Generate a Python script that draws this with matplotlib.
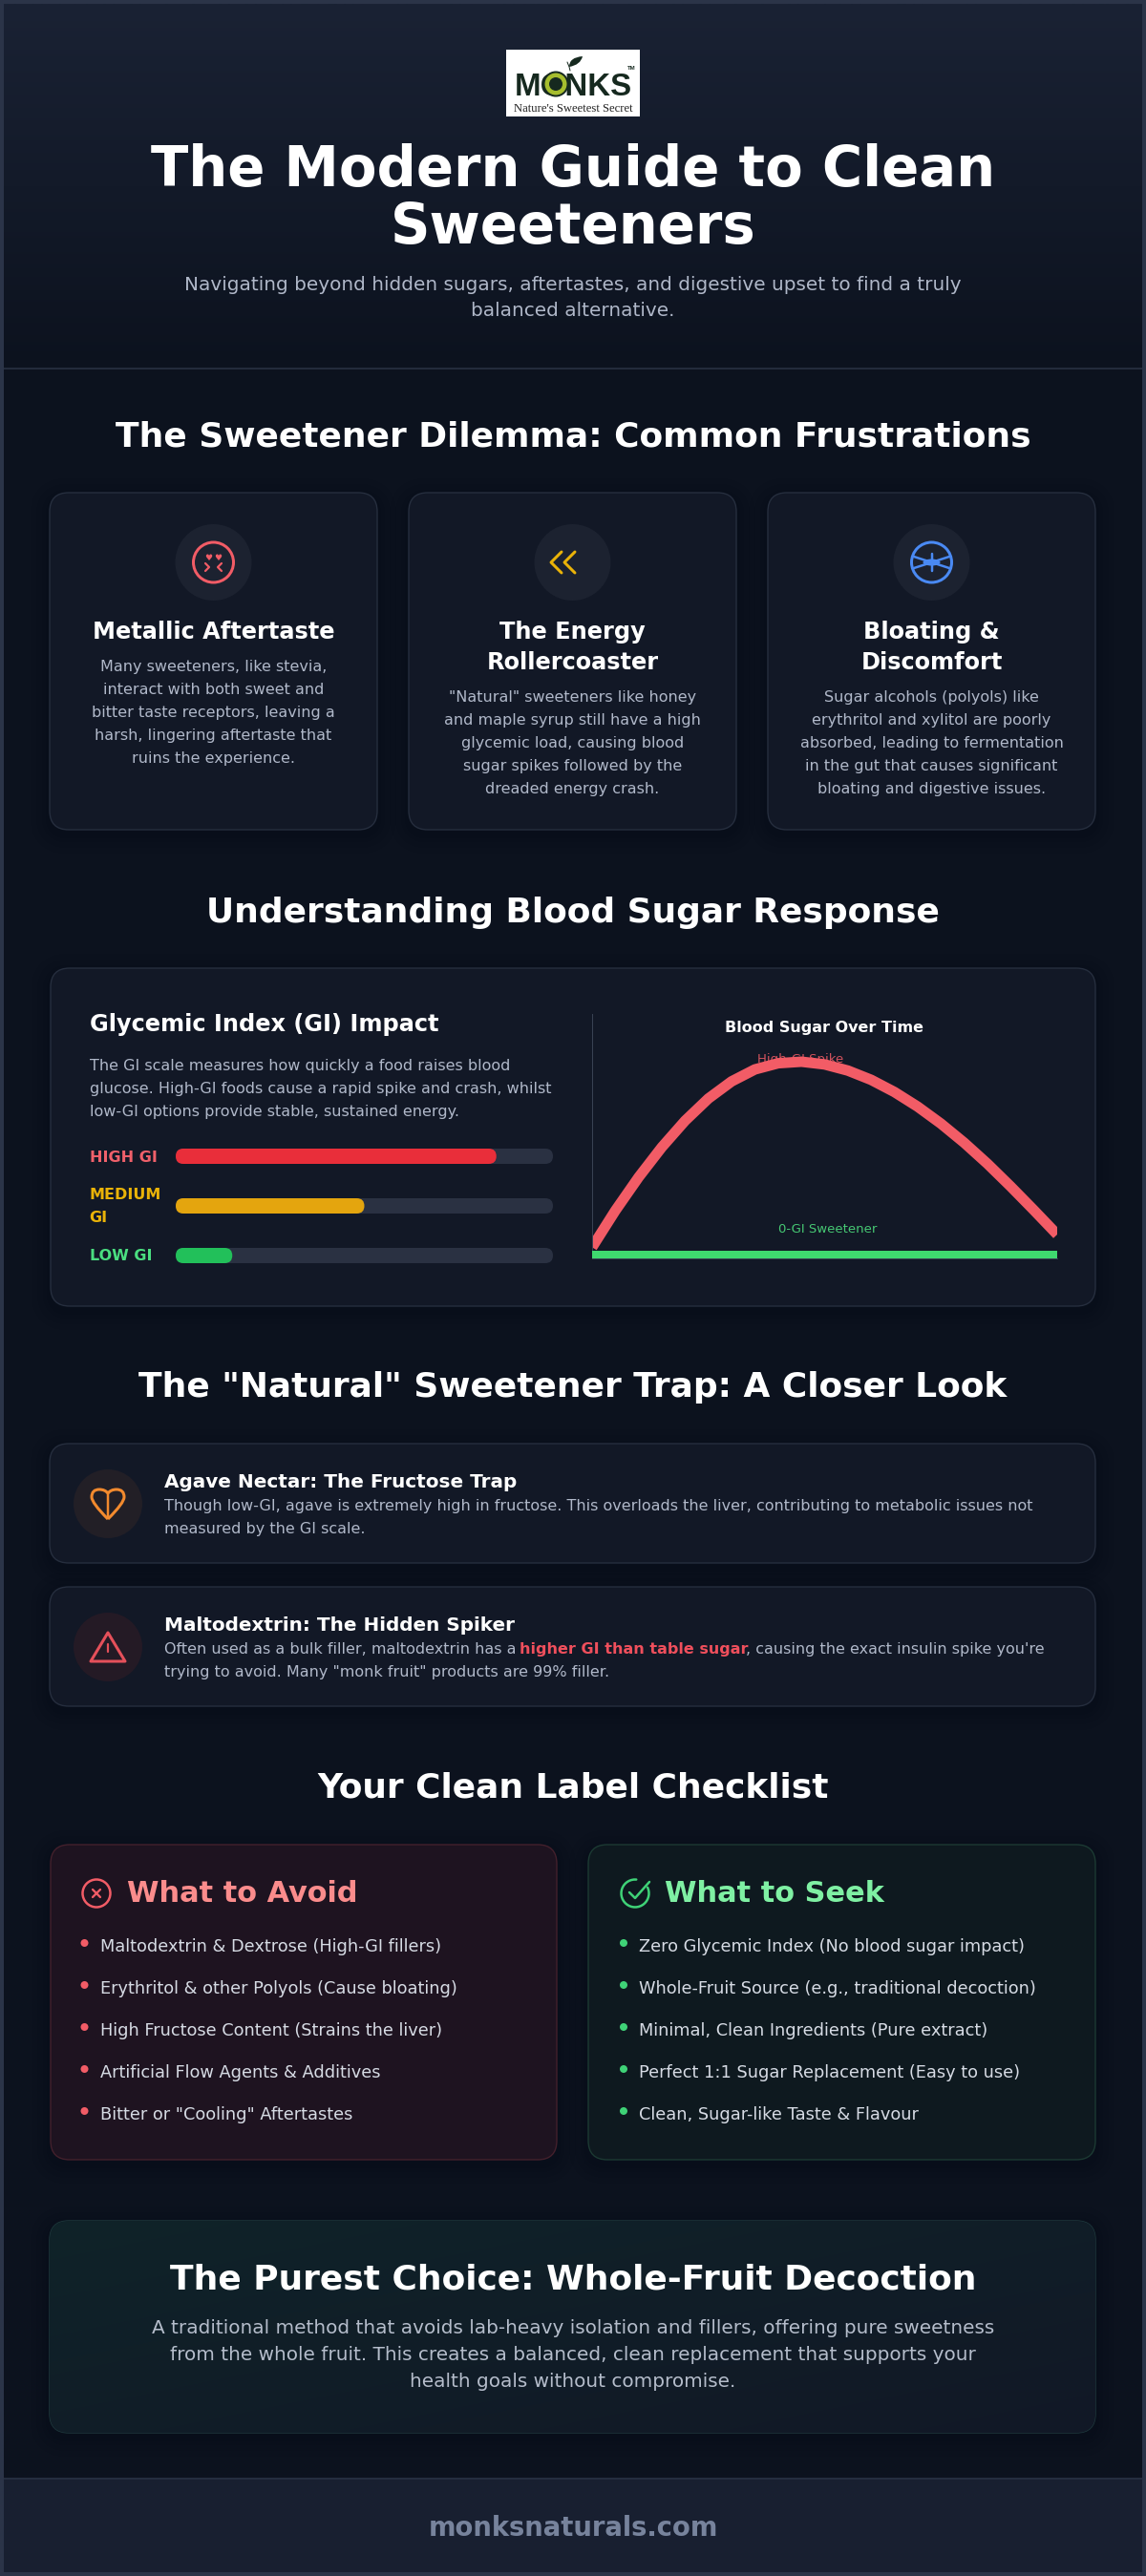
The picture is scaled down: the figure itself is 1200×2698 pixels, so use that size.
import numpy as np
import matplotlib
matplotlib.use("Agg")
import matplotlib.pyplot as plt
from matplotlib.patches import Circle, Ellipse, FancyBboxPatch, Rectangle, PathPatch, Polygon
from matplotlib.path import Path

W, H = 1200, 2698

# data
gi_labels = ["HIGH GI", "MEDIUM\nGI", "LOW GI"]
gi_values = [85, 50, 15]
gi_colors = ["#e92e3a", "#e4a50e", "#22c05a"]
gi_label_colors = ["#f0606a", "#eab308", "#4ade80"]

curve_time = [0, 5, 10, 15, 20, 25, 30, 35, 40, 45, 50, 55, 60, 65, 70, 75, 80, 85, 90, 95, 100]
curve_high = [3.8, 22.8, 40.1, 55.7, 69.4, 80.9, 89.8, 96, 99.2, 100, 98.6, 95.4, 90.6, 84.3, 76.7,
              67.9, 58, 47.1, 35.3, 23, 10.4]
curve_zero_time = [0, 100]
curve_zero = [0, 0]

card_titles = [["Metallic Aftertaste"], ["The Energy", "Rollercoaster"], ["Bloating &", "Discomfort"]]
card_texts = [
    ["Many sweeteners, like stevia,", "interact with both sweet and", "bitter taste receptors, leaving a",
     "harsh, lingering aftertaste that", "ruins the experience."],
    ['"Natural" sweeteners like honey', "and maple syrup still have a high", "glycemic load, causing blood",
     "sugar spikes followed by the", "dreaded energy crash."],
    ["Sugar alcohols (polyols) like", "erythritol and xylitol are poorly", "absorbed, leading to fermentation",
     "in the gut that causes significant", "bloating and digestive issues."],
]
avoid_items = ["Maltodextrin & Dextrose (High-GI fillers)", "Erythritol & other Polyols (Cause bloating)",
               "High Fructose Content (Strains the liver)", "Artificial Flow Agents & Additives",
               'Bitter or "Cooling" Aftertastes']
seek_items = ["Zero Glycemic Index (No blood sugar impact)", "Whole-Fruit Source (e.g., traditional decoction)",
              "Minimal, Clean Ingredients (Pure extract)", "Perfect 1:1 Sugar Replacement (Easy to use)",
              "Clean, Sugar-like Taste & Flavour"]

BODY = "#0c121e"
CARD = "#121826"
EDGE = "#262e3e"
MUTED = "#b0b8c9"
RED = "#f25c66"
GREEN = "#3fd96f"

fig = plt.figure(figsize=(W / 100, H / 100), dpi=100, facecolor=BODY)
ax = fig.add_axes([0, 0, 1, 1])
ax.set_xlim(0, W)
ax.set_ylim(H, 0)
ax.axis("off")


def T(x, y, s, px, color="white", bold=False, ha="center", family="DejaVu Sans", z=5, alpha=None, axes=None):
    # y is the visual middle of the line, text is placed on its baseline
    (axes or ax).text(x, y + 0.36 * px, s, fontsize=px * 0.72, color=color, ha=ha, va="baseline",
                      fontweight="bold" if bold else "normal", family=family, zorder=z, alpha=alpha)


def box(x0, y0, x1, y1, fc, ec=EDGE, r=20, lw=1.0, z=2):
    p = FancyBboxPatch((x0, y0), x1 - x0, y1 - y0, boxstyle=f"round,pad=0,rounding_size={r}",
                       fc=fc, ec=ec, lw=lw, zorder=z)
    ax.add_patch(p)
    return p


def shadow(x0, y0, x1, y1, r=20):
    for grow in [20, 14, 8, 4]:
        ax.add_patch(FancyBboxPatch((x0 - grow, y0 - grow + 5), x1 - x0 + 2 * grow, y1 - y0 + 2 * grow,
                                    boxstyle=f"round,pad=0,rounding_size={r + grow}",
                                    fc="#070a14", ec="none", alpha=0.09, zorder=1))


def line(xs, ys, color, lw=3, z=6):
    ax.plot(xs, ys, color=color, lw=lw * 0.72, solid_capstyle="round", solid_joinstyle="round", zorder=z)


def ring(x, y, r, color, lw=3, z=6):
    ax.add_patch(Circle((x, y), r, fc="none", ec=color, lw=lw * 0.72, zorder=z))


def grad(extent, colors, clip=None, diagonal=False):
    c0, c1 = [np.array(matplotlib.colors.to_rgb(c)) for c in colors]
    t = np.linspace(0, 1, 256)
    if diagonal:
        a = np.add.outer(t, t) / 2
    else:
        a = np.tile(t[:, None], (1, 2))
    img = c0 + (c1 - c0) * a[..., None]
    im = ax.imshow(img, extent=extent, aspect="auto", zorder=2, interpolation="bilinear")
    if clip is not None:
        im.set_clip_path(clip)
    ax.set_xlim(0, W)
    ax.set_ylim(H, 0)


# page frame, header, footer
grad((4, 1196, 386, 4), ["#1a2234", "#0c121e"])
ax.add_patch(Rectangle((0, 385), W, 2, fc="#232b3b", ec="none", zorder=3))
ax.add_patch(Rectangle((0, 2596), W, 98, fc="#181f30", ec="none", zorder=2))
ax.add_patch(Rectangle((0, 2595), W, 2, fc="#252d3f", ec="none", zorder=3))
ax.add_patch(Rectangle((2, 2), W - 4, H - 4, fc="none", ec="#2b3448", lw=4 * 0.72, zorder=20))

# logo
DARK = "#16291f"
ax.add_patch(Rectangle((530, 52), 140, 70, fc="white", ec="none", zorder=3))
T(600, 88, "MONKS", 33, color=DARK, bold=True, family="Liberation Sans")
ax.add_patch(Circle((582, 88), 13.5, fc=DARK, ec="none", zorder=6))
ax.add_patch(Circle((582, 88), 11.5, fc="#a6bd2e", ec="none", zorder=6))
ax.add_patch(Circle((582, 88), 7, fc=DARK, ec="none", zorder=6))
ax.add_patch(PathPatch(Path([(596, 70), (596, 60), (610, 59), (610, 59), (608, 68), (596, 70)],
                            [Path.MOVETO, Path.CURVE3, Path.CURVE3, Path.LINETO, Path.CURVE3, Path.CURVE3]),
                       fc=DARK, ec="none", zorder=6))
line([594, 596, 597], [65, 70, 74], DARK, lw=1)
T(661, 71, "TM", 6, color=DARK, bold=True, family="Liberation Sans")
T(600, 112, "Nature's Sweetest Secret", 12.6, color="#222222", family="Liberation Serif")

# header text
T(600, 174, "The Modern Guide to Clean", 57.6, bold=True)
T(600, 234, "Sweeteners", 57.6, bold=True)
T(600, 297, "Navigating beyond hidden sugars, aftertastes, and digestive upset to find a truly", 20, color=MUTED)
T(600, 324, "balanced alternative.", 20, color=MUTED)

# section headings
T(600, 454.5, "The Sweetener Dilemma: Common Frustrations", 36, bold=True)
T(600, 953, "Understanding Blood Sugar Response", 36, bold=True)
T(600, 1450, 'The "Natural" Sweetener Trap: A Closer Look', 36, bold=True)
T(600, 1870, "Your Clean Label Checklist", 36, bold=True)

# three cards
card_x = [(52, 395), (428, 771), (804, 1147)]
for (x0, x1), title, text in zip(card_x, card_titles, card_texts):
    shadow(x0, 516, x1, 869)
    box(x0, 516, x1, 869, CARD)
    cx = (x0 + x1) / 2
    ax.add_patch(Circle((cx, 589), 40, fc="#1c2230", ec="none", zorder=3))
    y = 660
    for t in title:
        T(cx, y, t, 24, bold=True)
        y += 32
    y += 5
    for t in text:
        T(cx, y, t, 16, color=MUTED)
        y += 24

# card icons
ring(223.5, 589, 21, RED, lw=3)
for hx in [218.5, 228.5]:
    T(hx, 584, "\u2665", 9, color=RED, z=7)
line([215, 219, 215], [590, 594, 598], RED, lw=2.2)
line([232, 228, 232], [590, 594, 598], RED, lw=2.2)

YEL = "#eab308"
line([588, 577, 588], [578, 589, 600], YEL, lw=3)
line([602, 591, 602], [578, 589, 600], YEL, lw=3)

BLUE = "#4a8af4"
ring(975.5, 589, 21, BLUE, lw=3)
line([957, 975.5, 994], [583, 589, 583], BLUE, lw=2.5)
line([957, 975.5, 994], [595, 589, 595], BLUE, lw=2.5)
line([975.5, 975.5], [580, 598], BLUE, lw=2.5)
ax.add_patch(Ellipse((975.5, 589), 18, 7, fc=BLUE, ec="none", zorder=6))

# gi panel
shadow(53, 1014, 1147, 1368)
box(53, 1014, 1147, 1368, CARD)
T(93.5, 1071, "Glycemic Index (GI) Impact", 24, bold=True, ha="left")
for y, t in zip([1115, 1139, 1163], ["The GI scale measures how quickly a food raises blood",
                                     "glucose. High-GI foods cause a rapid spike and crash, whilst",
                                     "low-GI options provide stable, sustained energy."]):
    T(93.5, y, t, 16, color=MUTED, ha="left")

# gi bars, axes spans 184..579 px across and keeps pixel units down
bar_ax = fig.add_axes([184 / W, 1 - 1330 / H, 395 / W, 134 / H])
bar_ax.set_xlim(0, 100)
bar_ax.set_ylim(134, 0)
bar_ax.axis("off")
bar_y = [15, 67, 119]
asp = 395 / 100
for yc, v, c in zip(bar_y, gi_values, gi_colors):
    bar_ax.add_patch(FancyBboxPatch((0, yc - 8), 100, 16, boxstyle=f"round,pad=0,rounding_size={8 / asp}",
                                    mutation_aspect=asp, fc="#2a3142", ec="none"))
    bar_ax.add_patch(FancyBboxPatch((0, yc - 8), v, 16, boxstyle=f"round,pad=0,rounding_size={8 / asp}",
                                    mutation_aspect=asp, fc=c, ec="none"))
for y, s, c in [(1211, gi_labels[0], gi_label_colors[0]), (1250, gi_labels[1].split("\n")[0], gi_label_colors[1]),
                (1274, gi_labels[1].split("\n")[1], gi_label_colors[1]), (1314, gi_labels[2], gi_label_colors[2])]:
    T(93.5, y, s, 16, color=c, bold=True, ha="left")

# blood sugar chart
ch = fig.add_axes([620 / W, 1 - 1318 / H, 487 / W, 256 / H])
ch.set_xlim(0, 100)
ch.set_ylim(-1.98, 124.75)
ch.patch.set_alpha(0)
for s in ["top", "right"]:
    ch.spines[s].set_visible(False)
for s in ["left", "bottom"]:
    ch.spines[s].set_color("#3a4355")
    ch.spines[s].set_linewidth(0.7)
ch.set_xticks([])
ch.set_yticks([])
ch.text(44.8, 101, "High-GI Spike", fontsize=13.3 * 0.72, color=RED, alpha=0.85, ha="center", va="center", zorder=1)
ch.text(50.6, 12.9, "0-GI Sweetener", fontsize=13.3 * 0.72, color="#46c873", ha="center", va="center", zorder=1)
ch.plot(curve_time, curve_high, color=RED, lw=11 * 0.72, solid_joinstyle="round", solid_capstyle="butt", zorder=2)
ch.plot(curve_zero_time, curve_zero, color=GREEN, lw=8 * 0.72, solid_capstyle="butt", zorder=3)
T(863, 1075, "Blood Sugar Over Time", 16, bold=True)

# natural trap cards
for y0, circle_fc in [(1512, "#221f26"), (1662, "#241a25")]:
    shadow(52, y0, 1147, y0 + 125)
    box(52, y0, 1147, y0 + 125, CARD)
    ax.add_patch(Circle((113, y0 + 63), 36, fc=circle_fc, ec="none", zorder=3))

T(172.5, 1551, "Agave Nectar: The Fructose Trap", 20, bold=True, ha="left")
T(172.5, 1576, "Though low-GI, agave is extremely high in fructose. This overloads the liver, contributing to metabolic issues not",
  16, color=MUTED, ha="left")
T(172.5, 1600, "measured by the GI scale.", 16, color=MUTED, ha="left")
T(172.5, 1701, "Maltodextrin: The Hidden Spiker", 20, bold=True, ha="left")
T(172.5, 1726, "Often used as a bulk filler, maltodextrin has a", 16, color=MUTED, ha="left")
T(544, 1726, "higher GI than table sugar", 16, color="#ef4f5c", bold=True, ha="left")
T(781, 1726, ", causing the exact insulin spike you're", 16, color=MUTED, ha="left")
T(172.5, 1750, 'trying to avoid. Many "monk fruit" products are 99% filler.', 16, color=MUTED, ha="left")

# heart icon
OR = "#f28a2e"
heart = Path([(113, 1591), (96, 1574), (96, 1568), (96, 1560), (104, 1560), (110, 1560), (113, 1564),
              (116, 1560), (122, 1560), (130, 1560), (130, 1568), (130, 1574), (113, 1591)],
             [Path.MOVETO, Path.CURVE3, Path.CURVE3, Path.CURVE3, Path.CURVE3, Path.CURVE3, Path.CURVE3,
              Path.CURVE3, Path.CURVE3, Path.CURVE3, Path.CURVE3, Path.CURVE3, Path.CURVE3])
ax.add_patch(PathPatch(heart, fc="none", ec=OR, lw=2.2, joinstyle="round", zorder=6))
line([113, 113], [1564, 1590], OR, lw=2.5)

# warning icon
WARN = "#e5505a"
ax.add_patch(Polygon([(113, 1710), (131, 1740), (95, 1740)], closed=True, fc="none", ec=WARN, lw=2.2,
                     joinstyle="round", zorder=6))
line([113, 113], [1722, 1730], WARN, lw=2.2)
line([113, 113], [1736, 1736.2], WARN, lw=2.4)

# checklist panels
AV_BG, SK_BG = "#1e1320", "#0e191f"
shadow(53, 1932, 583, 2262)
shadow(616, 1932, 1147, 2262)
box(53, 1932, 583, 2262, AV_BG, ec="#43202c")
box(616, 1932, 1147, 2262, SK_BG, ec="#1c3a33")
T(133, 1981, "What to Avoid", 30.4, color="#fb8c8c", bold=True, ha="left")
T(696, 1981, "What to Seek", 30.4, color="#7ff0a3", bold=True, ha="left")

ring(101, 1983, 14.5, RED, lw=2.5)
line([97, 105], [1979, 1987], RED, lw=2.3)
line([105, 97], [1979, 1987], RED, lw=2.3)

# open circle of the check icon, gap at the upper right
theta = np.radians(np.arange(-25, 280, 10))
line(665 + 14.5 * np.cos(theta), 1983 + 14.5 * np.sin(theta), "#3fd277", lw=2.5)
line([659, 665, 680], [1982, 1988, 1971], "#3fd277", lw=2.5)

ys = [2038, 2082, 2126, 2170, 2214]
for y, a, s in zip(ys, avoid_items, seek_items):
    ax.add_patch(Circle((88.5, y - 3), 4, fc=RED, ec="none", zorder=6))
    ax.add_patch(Circle((653, y - 3), 4, fc="#3fd277", ec="none", zorder=6))
    T(105, y, a, 17.8, color="#d6dbe4", ha="left")
    T(669, y, s, 17.8, color="#d6dbe4", ha="left")

# bottom panel
shadow(52, 2326, 1147, 2548)
edge = box(52, 2326, 1147, 2548, CARD, ec="#1f3a3e")
grad((52, 1147, 2548, 2326), ["#0f2329", "#121826"], clip=edge, diagonal=True)
T(600, 2385, "The Purest Choice: Whole-Fruit Decoction", 36, bold=True)
for y, t in zip([2437, 2465, 2493], ["A traditional method that avoids lab-heavy isolation and fillers, offering pure sweetness",
                                     "from the whole fruit. This creates a balanced, clean replacement that supports your",
                                     "health goals without compromise."]):
    T(600, y, t, 20, color="#b5bdcb")

# footer text
T(600, 2646, "monksnaturals.com", 27.5, color="#77839c", bold=True)

fig.savefig("out.png", dpi=100, facecolor=BODY)
